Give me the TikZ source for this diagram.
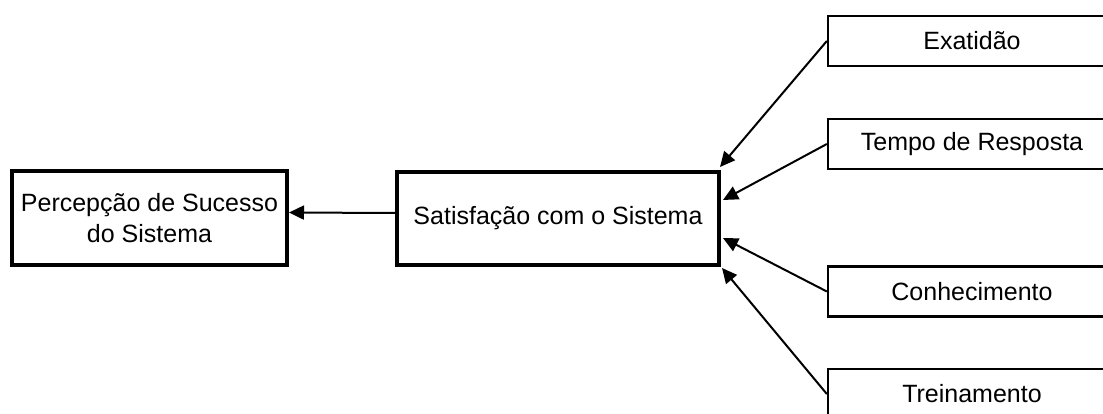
\documentclass[tikz,border=0pt]{standalone}
\usepackage{fontspec}
\setmainfont{Liberation Sans}
\usetikzlibrary{arrows.meta}
\begin{document}
\begin{tikzpicture}[x=1pt,y=-1pt,
  bigbox/.style={draw, line width=4pt, inner sep=0pt, align=center,
    font=\fontsize{25}{31}\selectfont},
  smallbox/.style={draw, line width=2.3pt, inner sep=0pt, minimum width=288pt,
    minimum height=50pt, font=\fontsize{25}{31}\selectfont},
  arr/.style={line width=2pt, -{Triangle[length=15pt,width=14pt]}}]
\clip (0,0) rectangle (1103,414);
\fill[white] (0,0) rectangle (1103,414);
\node[bigbox, minimum width=275pt, minimum height=94pt] (perc) at (149.5,218) {Percepção de Sucesso\\do Sistema};
\node[bigbox, minimum width=322pt, minimum height=93pt] (sat) at (558,218.5) {Satisfação com o Sistema};
\node[smallbox] (exa) at (972,41) {Exatidão};
\node[smallbox] (tem) at (972,144) {Tempo de Resposta};
\node[smallbox] (con) at (972,291.5) {Conhecimento};
\node[smallbox] (tre) at (972,394) {Treinamento};
\coordinate (t1) at (720,167);
\coordinate (t2) at (723,200);
\coordinate (t3) at (723,238);
\coordinate (t4) at (722,268);
\draw[arr] ([yshift=5.5pt]sat.west) -- ([yshift=5.5pt]perc.east);
\draw[arr] (exa.west) -- (t1);
\draw[arr] (tem.west) -- (t2);
\draw[arr] (con.west) -- (t3);
\draw[arr] (tre.west) -- (t4);
\end{tikzpicture}
\end{document}
